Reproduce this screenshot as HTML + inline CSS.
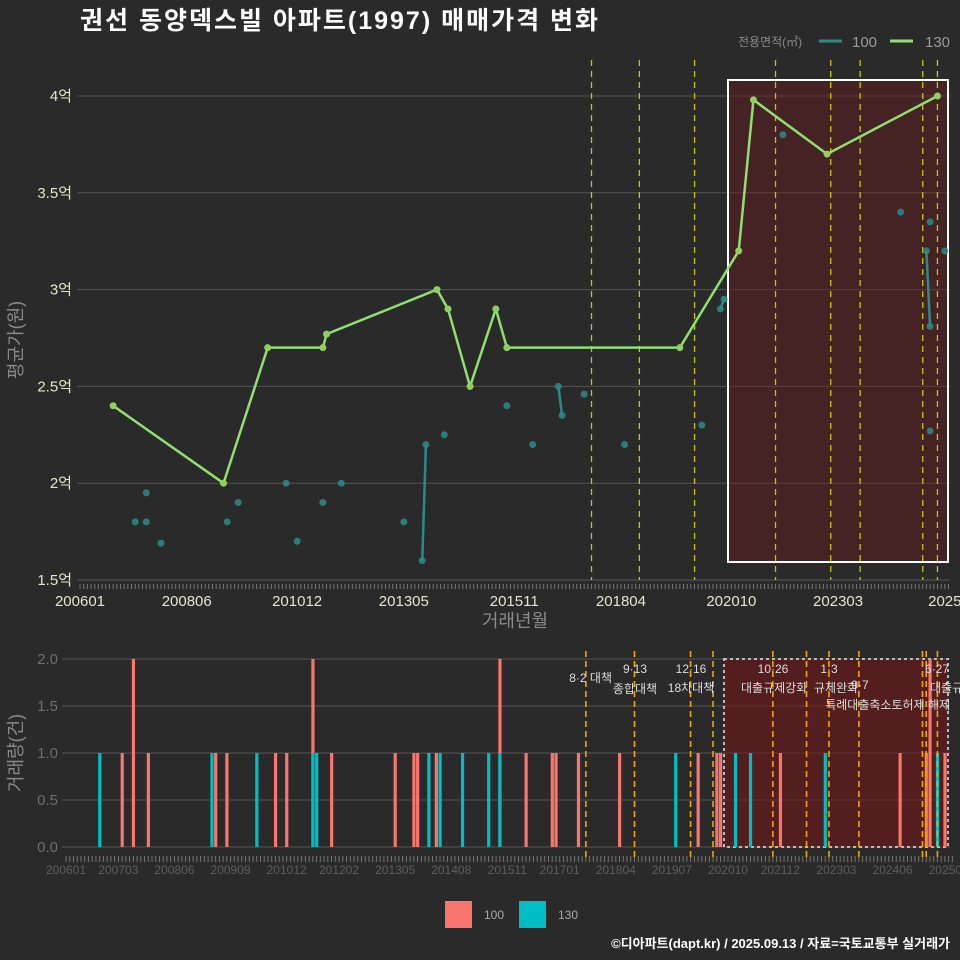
<!DOCTYPE html>
<html><head><meta charset="utf-8">
<style>
html,body{margin:0;padding:0;background:#2a2a2b;}
svg{display:block;font-family:"Liberation Sans","Noto Sans CJK KR",sans-serif;}
</style></head>
<body>
<svg id="c" width="960" height="960" viewBox="0 0 960 960">
<rect x="0" y="0" width="960" height="960" fill="#2a2a2b"/>
<text x="80" y="29" fill="#ffffff" font-size="25" font-weight="bold" letter-spacing="2">권선 동양덱스빌 아파트(1997) 매매가격 변화</text>
<g>
<text x="738" y="46" fill="#8a8a8a" font-size="12">전용면적(㎡)</text>
<line x1="819" y1="41" x2="842" y2="41" stroke="#2a8c86" stroke-width="3"/>
<text x="852" y="47" fill="#9a9a9a" font-size="15">100</text>
<line x1="890" y1="41" x2="913" y2="41" stroke="#90e070" stroke-width="3"/>
<text x="925" y="47" fill="#9a9a9a" font-size="15">130</text>
</g>
<g id="topPanel"></g>
<g id="botPanel"></g>
<g>
<rect x="445" y="901" width="27" height="27" fill="#f8766d"/>
<text x="484" y="919" fill="#aaaaaa" font-size="12">100</text>
<rect x="519" y="901" width="27" height="27" fill="#00bfc4"/>
<text x="558" y="919" fill="#aaaaaa" font-size="12">130</text>
</g>
<text x="950" y="948" text-anchor="end" fill="#ffffff" font-size="13" font-weight="bold">©디아파트(dapt.kr) / 2025.09.13 / 자료=국토교통부 실거래가</text>
</svg>
<script>
// ---- data ----
const months130 = ["200610","200904","201004","201107","201108","201402","201405","201411","201506","201509","201908","202012","202104","202212","202506"];
const price130 = [2.4,2.0,2.7,2.7,2.77,3.0,2.9,2.5,2.9,2.7,2.7,3.2,3.98,3.7,4.0];
const months100 = ["200704","200707","200707","200711","200905","200908","201009","201012","201107","201112","201305","201310","201311","201404","201509","201604","201611","201612","201706","201805","202002","202007","202008","202112","202408","202503","202504","202504","202504","202508"];
const price100 = [1.8,1.95,1.8,1.69,1.8,1.9,2.0,1.7,1.9,2.0,1.8,1.6,2.2,2.25,2.4,2.2,2.5,2.35,2.46,2.2,2.3,2.9,2.95,3.8,3.4,3.2,2.81,3.35,2.27,3.2];
const line100 = [["201310","201311"],["201611","201612"],["202007","202008"],["202503","202504"]];
const line100Vals = [[1.6,2.2],[2.5,2.35],[2.9,2.95],[3.2,2.81]];
const volMonths100 = ["200704","200707","200711","200905","200908","201009","201012","201107","201112","201305","201310","201311","201404","201509","201604","201611","201612","201706","201805","202002","202007","202008","202112","202408","202503","202504","202508"];
const volCounts100 = [1,2,1,1,1,1,1,2,1,1,1,1,1,2,1,1,1,1,1,1,1,1,1,1,1,2,1];
const volMonths130 = ["200610","200904","201004","201107","201108","201402","201405","201411","201506","201509","201908","202012","202104","202212","202506"];
const volCounts130 = [1,1,1,1,1,1,1,1,1,1,1,1,1,1,1];
const topYTicks = [1.5,2,2.5,3,3.5,4];
const topYLabels = ["1.5억","2억","2.5억","3억","3.5억","4억"];
const topXTicks = ["200601","200806","201012","201305","201511","201804","202010","202303","202508"];
const topXLabels = ["200601","200806","201012","201305","201511","201804","202010","202303","2025"];
const botYTicks = [0,0.5,1,1.5,2];
const botYLabels = ["0.0","0.5","1.0","1.5","2.0"];
const botXTicks = ["200601","200703","200806","200909","201012","201202","201305","201408","201511","201701","201804","201907","202010","202112","202303","202406","202509"];
const policyTop = ["201708","201809","201912","202110","202301","202309","202502","202506"];
const policyBot = ["201708","201809","201912","202006","202110","202207","202301","202309","202502","202503","202506"];
const policyDates = ["8·2 대책","9·13","12·16","10·26","1·3","9·7","6·27"];

(function(){
const NS="http://www.w3.org/2000/svg";
function mi(s){return (parseInt(s.slice(0,4))-2006)*12+parseInt(s.slice(4))-1;}
const tx=m=>80+mi(m)*3.68;
const ty=v=>580-(v-1.5)*193.6;
const bx=m=>66+mi(m)*3.74;
const by=v=>847-v*94;
function el(tag,attrs,parent,txt){const e=document.createElementNS(NS,tag);for(const k in attrs)e.setAttribute(k,attrs[k]);if(txt!=null)e.textContent=txt;parent.appendChild(e);return e;}
const tp=document.getElementById('topPanel'), bp=document.getElementById('botPanel');

// ---- top panel ----
topYTicks.forEach((v,i)=>{
  const g=el('line',{x1:77,x2:950,y1:ty(v),y2:ty(v),stroke:'#555','stroke-width':1},tp);
  
  
  const t=el('text',{x:72,y:ty(v)+5,'text-anchor':'end',fill:'#e6e6c8','font-size':15},tp,topYLabels[i]);
  
  
});
for(let m=0;m<=236;m++){
  const x=80+m*3.68;
  const k=el('line',{x1:x,x2:x,y1:584,y2:589,stroke:'#777','stroke-width':1},tp);
  
  
}
topXTicks.forEach((m,i)=>{
  const t=el('text',{x:tx(m),y:606,'text-anchor':'middle',fill:'#e6e6c8','font-size':15},tp,topXLabels[i]);
  
  
});
let r=el('rect',{x:728,y:80,width:220,height:482,fill:'rgba(120,20,20,0.35)',stroke:'#ffffff','stroke-width':2},tp);


policyTop.forEach(m=>{
  const l=el('line',{x1:tx(m),x2:tx(m),y1:60,y2:580,stroke:'#c8c800','stroke-width':1.3,'stroke-dasharray':'6,5'},tp);
  
  
});
line100.forEach((p,i)=>{
  const l=el('line',{x1:tx(p[0]),y1:ty(line100Vals[i][0]),x2:tx(p[1]),y2:ty(line100Vals[i][1]),stroke:'#2a8c86','stroke-width':2.5},tp);
  
  
});
months100.forEach((m,i)=>{
  const c=el('circle',{cx:tx(m),cy:ty(price100[i]),r:3.5,fill:'#2a8c86','fill-opacity':0.85},tp);
  
  
});
const pts=months130.map((m,i)=>tx(m)+','+ty(price130[i])).join(' ');
const pl=el('polyline',{points:pts,fill:'none',stroke:'#90e070','stroke-width':2.5},tp);


months130.forEach((m,i)=>{
  const c=el('circle',{cx:tx(m),cy:ty(price130[i]),r:3.5,fill:'#90d060'},tp);
  
  
});
let t=el('text',{x:515,y:627,'text-anchor':'middle',fill:'#8a8a8a','font-size':18},tp,'거래년월');


t=el('text',{x:0,y:0,'text-anchor':'middle',fill:'#8a8a8a','font-size':18,transform:'translate(22,340) rotate(-90)'},tp,'평균가(원)');



// ---- bottom panel ----
botYTicks.forEach((v,i)=>{
  const g=el('line',{x1:62,x2:950,y1:by(v),y2:by(v),stroke:'#555','stroke-width':1},bp);
  
  
  const tl=el('text',{x:58,y:by(v)+5,'text-anchor':'end',fill:'#6e6e6e','font-size':15},bp,botYLabels[i]);
  
  
});
for(let m=0;m<=237;m++){
  const x=66+m*3.74;
  const k=el('line',{x1:x,x2:x,y1:856,y2:862,stroke:'#777','stroke-width':1},bp);
  
  
}
botXTicks.forEach(m=>{
  const tl=el('text',{x:bx(m),y:874,'text-anchor':'middle',fill:'#5e5e5e','font-size':12},bp,m);
  
  
});
r=el('rect',{x:724,y:659,width:224,height:188,fill:'rgba(120,20,20,0.55)',stroke:'#bbbbbb','stroke-width':2,'stroke-dasharray':'3,3'},bp);


volMonths100.forEach((m,i)=>{
  const b=el('rect',{x:bx(m)-1.5,y:by(volCounts100[i]),width:3.2,height:volCounts100[i]*94,fill:'#f8766d'},bp);
  
  
});
volMonths130.forEach((m,i)=>{
  const b=el('rect',{x:bx(m)-1.5,y:by(volCounts130[i]),width:3.2,height:volCounts130[i]*94,fill:'#00bfc4'},bp);
  
  
});
policyBot.forEach(m=>{
  const l=el('line',{x1:bx(m),x2:bx(m),y1:651,y2:858,stroke:'#f0a800','stroke-width':1.6,'stroke-dasharray':'6,4'},bp);
  
  
});
const ann=[[612,682,'end',policyDates[0]],[635,673,'middle',policyDates[1]],[635,693,'middle','종합대책'],[691,673,'middle',policyDates[2]],[691,692,'middle','18차대책'],[773,673,'middle',policyDates[3]],[741,692,'start','대출규제강화'],[829,673,'middle',policyDates[4]],[814,692,'start','규제완화'],[860,689,'middle',policyDates[5]],[950,709,'end','특례대출축소토허제 해제'],[937,673,'middle',policyDates[6]],[930,692,'start','대출규']];
ann.forEach(a=>{
  const tl=el('text',{x:a[0],y:a[1],'text-anchor':a[2],fill:'#dddddd','font-size':12},bp,a[3]);
  
  
});
t=el('text',{x:0,y:0,'text-anchor':'middle',fill:'#8a8a8a','font-size':18,transform:'translate(22,753) rotate(-90)'},bp,'거래량(건)');


})();
</script>
</body></html>
